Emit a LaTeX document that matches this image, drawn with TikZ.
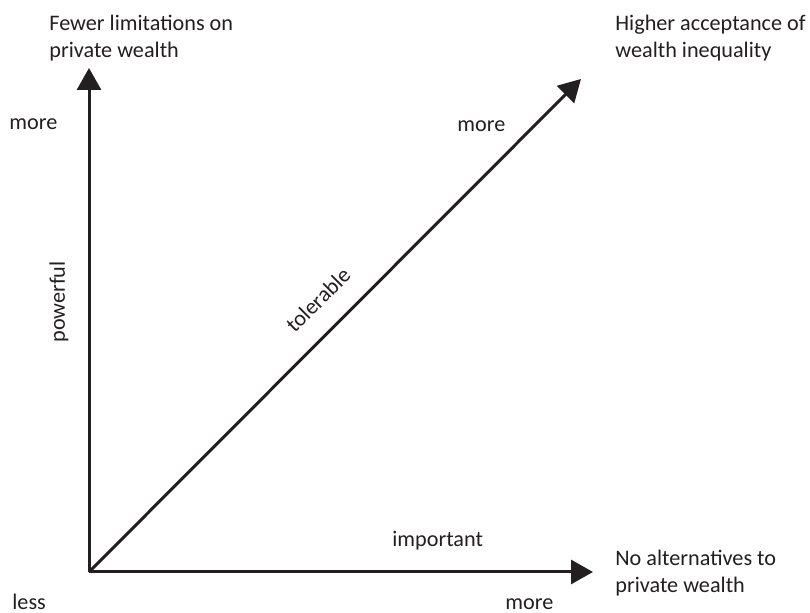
\documentclass[tikz,border=0pt]{standalone}
\usepackage{fontspec}
\setmainfont{Carlito}
\usetikzlibrary{arrows.meta}
\definecolor{inkgray}{HTML}{231F20}
\tikzset{
	axis/.style={line width=1.5pt,draw=inkgray,-{Triangle[length=11pt,width=12pt]}},
	lbl/.style={inner sep=0pt,text=inkgray,font=\fontsize{11.1}{13.3}\selectfont,align=left}
}
\begin{document}
\begin{tikzpicture}[x=0.5pt,y=-0.5pt]
		\useasboundingbox (0,0) rectangle (810,613);
		\coordinate (O) at (89,572);
		\coordinate (ytip) at (89,68);
		\coordinate (xtip) at (593,572);
		\coordinate (dtip) at (581,79);
		
		\draw[axis] (O) -- (ytip);
		\draw[axis] (O) -- (xtip);
		\draw[axis] (O) -- (dtip);
		
		\node[lbl,anchor=north west] (ytitle) at (49,15) {Fewer limitations on\\private wealth};
		\node[lbl,anchor=north west] (dtitle) at (615,15) {Higher acceptance of\\wealth inequality};
		\node[lbl,anchor=north west] (xtitle) at (615,550) {No alternatives to\\private wealth};
		
		\node[lbl,anchor=base west] (ymore) at (9,130) {more};
		\node[lbl,anchor=base west] (dmore) at (457,132) {more};
		\node[lbl,anchor=base west] (xmore) at (505,610) {more};
		\node[lbl,anchor=base west] (less) at (12,610) {less};
		
		\node[lbl,rotate=90] (powerful) at (59,302) {powerful};
		\node[lbl,rotate=45] (tolerable) at (318,300) {tolerable};
		\node[lbl,anchor=base west] (important) at (392,547) {important};
	\end{tikzpicture}
\end{document}
